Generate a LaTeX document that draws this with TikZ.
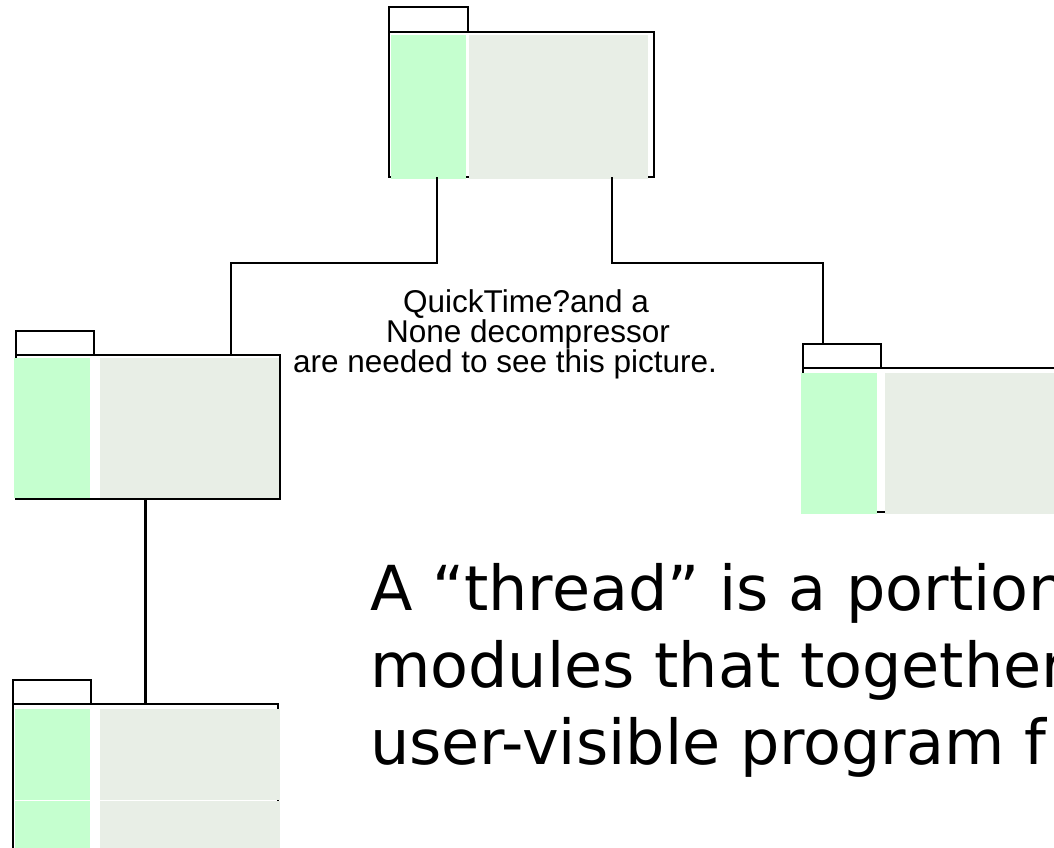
\documentclass[tikz,border=0pt]{standalone}
\usepackage{fontspec}
\setmainfont{Liberation Sans}
\newfontfamily\bigfont{DejaVu Sans}
\definecolor{modgreen}{RGB}{197,255,207}
\definecolor{modgray}{RGB}{232,238,230}
\begin{document}
\begin{tikzpicture}[x=1pt,y=-1pt,
  outline/.style={draw=black,line width=2.3pt},
  greenpart/.style={fill=modgreen},
  graypart/.style={fill=modgray},
  tabbox/.style={draw=black,line width=2.3pt,fill=white},
  conn/.style={draw=black,line width=2.3pt},
  note/.style={font=\fontsize{31.5}{31}\selectfont,anchor=base west,inner sep=0pt},
  claim/.style={font=\bigfont\fontsize{62}{77}\selectfont,anchor=base west,inner sep=0pt}]
\useasboundingbox (0,0) rectangle (1054,847);
\clip (0,0) rectangle (1054,847);

% ---- top module
\draw[tabbox] (389,7) rectangle (468,32);
\draw[outline] (389,177) -- (389,32) -- (654,32) -- (654,177) -- cycle;
\fill[greenpart] (391,34.5) rectangle (466,178.8);
\fill[graypart] (469,34.5) rectangle (648,178.8);
\coordinate (Tout1) at (437,177);
\coordinate (Tout2) at (612,177);

% ---- left module
\draw[tabbox] (16,331) rectangle (94,355);
\draw[outline] (16,355) rectangle (280,499);
\fill[greenpart] (14,357.5) rectangle (90,497.6);
\fill[graypart] (100,357.5) rectangle (278.8,497.6);
\coordinate (Lin) at (231,355);
\coordinate (Lout) at (145.5,499);

% ---- right module
\draw[tabbox] (803,344) rectangle (881,368);
\draw[outline] (1060,368) -- (803,368) -- (803,512) -- (1060,512);
\fill[greenpart] (801,372.5) rectangle (877,514);
\fill[graypart] (885,372.5) rectangle (1060,514);
\coordinate (Rin) at (823,344);

% ---- bottom module (two rows)
\draw[tabbox] (13,680) rectangle (91,704);
\draw[outline] (13,860) -- (13,704) -- (278,704) -- (278,860);
\fill[greenpart] (15,709) rectangle (90,799.5);
\fill[graypart] (100,709) rectangle (280,799.5);
\fill[greenpart] (15,800.6) rectangle (90,860);
\fill[graypart] (100,800.6) rectangle (280,860);
\coordinate (Bin) at (145.5,704);

% ---- connectors
\draw[conn] (Tout1) -- ++(0,86) -| (Lin);
\draw[conn] (Tout2) -- ++(0,86) -| (Rin);
\draw[conn] (Lout) -- (Bin);

% ---- placeholder text
\node[note] (qt1) at (403,312) {QuickTime?and a};
\node[note] (qt2) at (386,342) {None decompressor};
\node[note] (qt3) at (293,372) {are needed to see this picture.};

% ---- statement
\node[claim] (claim1) at (370,610) {A “thread” is a portion};
\node[claim] (claim2) at (370,687) {modules that together};
\node[claim] (claim3) at (370,764) {user-visible program f};
\end{tikzpicture}
\end{document}
